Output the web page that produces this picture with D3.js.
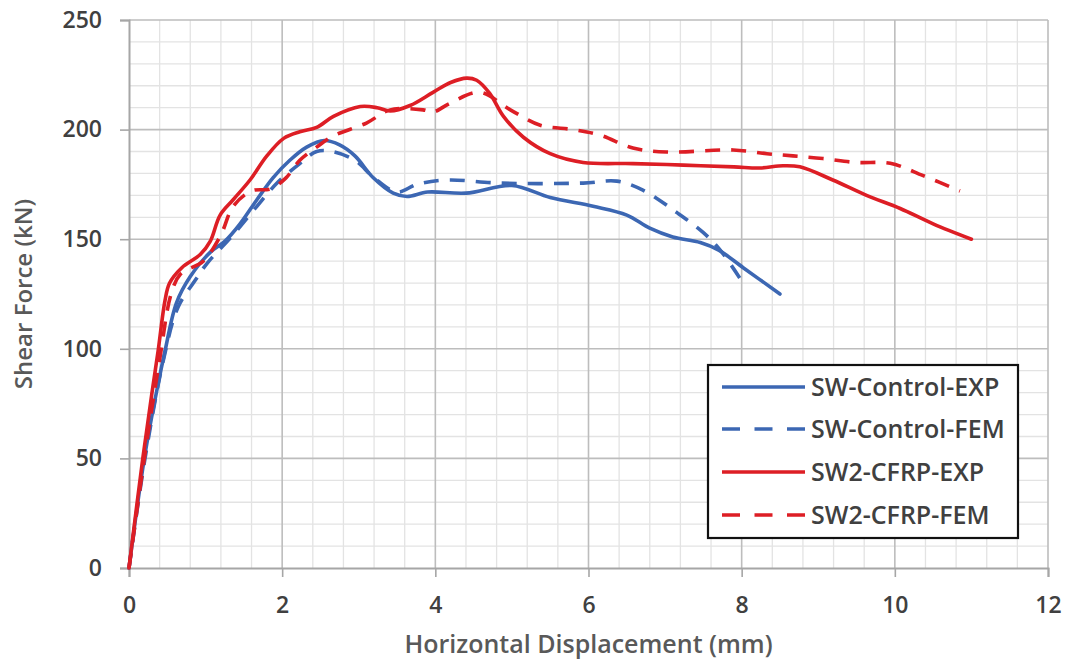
<!DOCTYPE html>
<html>
<head>
<meta charset="utf-8">
<script src="https://cdn.jsdelivr.net/npm/d3@7"></script>
<style>
  html, body { margin: 0; padding: 0; background: #fff; }
  svg { display: block; font-family: "Open Sans", "DejaVu Sans", sans-serif; }
</style>
</head>
<body>
<svg id="chart" width="1068" height="669"></svg>
<script>
// Shear force vs. horizontal displacement, [mm, kN]
const controlExp = [
  [0,0],[0.2,50],[0.38,84],[0.47,99],[0.62,121],[0.8,133],[1.06,144],[1.25,149],
  [1.45,157],[1.67,168],[1.88,178],[2.1,186],[2.32,192],[2.55,195],[2.75,193],
  [2.95,188],[3.19,178],[3.45,171],[3.63,169.5],[3.9,171.5],[4.4,171],[5.0,174.5],
  [5.5,169],[6.06,165],[6.5,161],[6.8,155],[7.1,151],[7.46,148.5],[7.7,145],
  [8.02,137],[8.5,125]
];
const controlFem = [
  [0,0],[0.2,48],[0.45,95],[0.64,119],[0.86,131],[1.02,139],[1.36,152],[1.67,165],
  [1.93,175.5],[2.23,184.5],[2.45,190],[2.65,190],[2.95,186],[3.2,178],[3.5,171.5],
  [3.76,175],[4.15,177],[4.84,175.6],[5.93,175.6],[6.37,176.5],[6.71,172.4],
  [7.16,162],[7.5,153],[7.72,145],[8.0,131]
];
const cfrpExp = [
  [0,0],[0.18,50],[0.3,80],[0.38,99],[0.47,122],[0.53,130],[0.69,137],[0.93,143],
  [1.06,149],[1.19,161],[1.36,168],[1.58,177],[1.8,188],[2.02,196],[2.23,199],
  [2.45,201],[2.67,206],[3.02,210.5],[3.24,210],[3.41,208.5],[3.67,211],[3.97,217],
  [4.2,221.5],[4.41,223.5],[4.54,222.5],[4.71,216.5],[4.89,206],[5.15,196.5],
  [5.5,189],[5.93,185],[6.58,184.5],[7.24,183.8],[7.9,183],[8.24,182.5],[8.54,183.5],
  [8.76,183],[9.19,177],[9.63,170],[10.07,164],[10.5,157],[11.0,150]
];
const cfrpFem = [
  [0,0],[0.2,50],[0.4,95],[0.55,125],[0.67,134],[0.97,140],[1.2,152],[1.36,165],
  [1.6,172],[1.85,173],[2.05,178],[2.23,186],[2.45,192],[2.66,197],[3.1,203],
  [3.41,209],[3.84,209],[3.97,208],[4.19,212],[4.58,217],[4.98,209],[5.37,202],
  [5.8,200],[6.15,197.5],[6.58,191.6],[7.02,189.8],[7.89,190.7],[8.33,189],
  [8.67,188],[9.06,186.8],[9.5,185],[9.94,184.6],[10.37,179],[10.85,172]
];

const seriesNames = ["SW-Control-EXP", "SW-Control-FEM", "SW2-CFRP-EXP", "SW2-CFRP-FEM"];
const xTicks = [0, 2, 4, 6, 8, 10, 12];
const yTicks = [0, 50, 100, 150, 200, 250];
const xTitle = "Horizontal Displacement (mm)";
const yTitle = "Shear Force (kN)";

const BLUE = "#3c67b3", RED = "#dd1e25";
const series = [
  { name: seriesNames[0], data: controlExp, color: BLUE, dash: null },
  { name: seriesNames[1], data: controlFem, color: BLUE, dash: "15,11" },
  { name: seriesNames[2], data: cfrpExp, color: RED, dash: null },
  { name: seriesNames[3], data: cfrpFem, color: RED, dash: "15,11" }
];

const svg = d3.select("#chart");
const plotL = 129, plotR = 1048, plotT = 20, plotB = 568;

const x = d3.scaleLinear().domain([0, 12]).range([plotL, plotR]);
const y = d3.scaleLinear().domain([0, 250]).range([plotB, plotT]);

// minor grid
const grid = svg.append("g");
grid.append("g").selectAll("line").data(d3.range(1, 30).filter(i => i % 5 !== 0).map(i => i * 0.4))
  .join("line")
  .attr("x1", d => x(d)).attr("x2", d => x(d)).attr("y1", plotT).attr("y2", plotB)
  .attr("stroke", "#e3e3e3").attr("stroke-width", 1.3);
grid.append("g").selectAll("line").data(d3.range(1, 25).filter(i => i % 5 !== 0).map(i => i * 10))
  .join("line")
  .attr("x1", plotL).attr("x2", plotR).attr("y1", d => y(d)).attr("y2", d => y(d))
  .attr("stroke", "#e3e3e3").attr("stroke-width", 1.3);

// major grid
grid.append("g").selectAll("line").data(xTicks.filter(v => v > 0))
  .join("line")
  .attr("x1", d => x(d)).attr("x2", d => x(d)).attr("y1", plotT).attr("y2", plotB)
  .attr("stroke", "#bdbdbd").attr("stroke-width", 1.6);
grid.append("g").selectAll("line").data(yTicks.filter(v => v > 0))
  .join("line")
  .attr("x1", plotL).attr("x2", plotR).attr("y1", d => y(d)).attr("y2", d => y(d))
  .attr("stroke", "#bdbdbd").attr("stroke-width", 1.6);

// axes
const xAxis = svg.append("g").attr("transform", `translate(0,${plotB})`)
  .call(d3.axisBottom(x).tickValues(xTicks).tickSize(9).tickPadding(20).tickFormat(d3.format("d")));
const yAxis = svg.append("g").attr("transform", `translate(${plotL},0)`)
  .call(d3.axisLeft(y).tickValues(yTicks).tickSize(9).tickPadding(18).tickFormat(d3.format("d")));
[xAxis, yAxis].forEach(a => {
  a.select(".domain").attr("stroke", "#a6a6a6").attr("stroke-width", 2);
  a.selectAll(".tick line").attr("stroke", "#a6a6a6").attr("stroke-width", 1.6);
  a.selectAll(".tick text").attr("fill", "#404040")
    .style("font-size", "23px").style("font-weight", 600).style("font-family", "'Open Sans', sans-serif");
});

// axis titles
svg.append("text").attr("x", (plotL + plotR) / 2).attr("y", 653)
  .attr("text-anchor", "middle").attr("fill", "#595959")
  .style("font-size", "25px").style("font-weight", 600).text(xTitle);
svg.append("text").attr("transform", `translate(32,${(plotT + plotB) / 2}) rotate(-90)`)
  .attr("text-anchor", "middle").attr("fill", "#595959")
  .style("font-size", "24px").style("font-weight", 600).text(yTitle);

// curves
const line = d3.line().x(d => x(d[0])).y(d => y(d[1])).curve(d3.curveCatmullRom.alpha(0.5));
svg.append("g").selectAll("path").data(series)
  .join("path")
  .attr("d", d => line(d.data))
  .attr("fill", "none")
  .attr("stroke", d => d.color)
  .attr("stroke-width", 3.6)
  .attr("stroke-dasharray", d => d.dash)
  .attr("stroke-linejoin", "round")
  .attr("stroke-linecap", d => d.dash ? "butt" : "round");

// legend
const lg = svg.append("g");
lg.append("rect").attr("x", 708).attr("y", 365).attr("width", 310).attr("height", 173)
  .attr("fill", "#fff").attr("stroke", "#111").attr("stroke-width", 2.2);
const rowY = [387, 429, 472, 515];
const items = lg.selectAll("g.item").data(series).join("g")
  .attr("transform", (d, i) => `translate(0,${rowY[i]})`);
items.append("line").attr("x1", 722).attr("x2", 805).attr("y1", 0).attr("y2", 0)
  .attr("stroke", d => d.color).attr("stroke-width", 3.6)
  .attr("stroke-dasharray", d => d.dash ? "18,14.5" : null);
items.append("text").attr("x", 811).attr("y", 0).attr("dy", "0.36em")
  .attr("fill", "#404040").style("font-size", "25px").style("font-weight", 600)
  .text(d => d.name);
</script>
</body>
</html>
